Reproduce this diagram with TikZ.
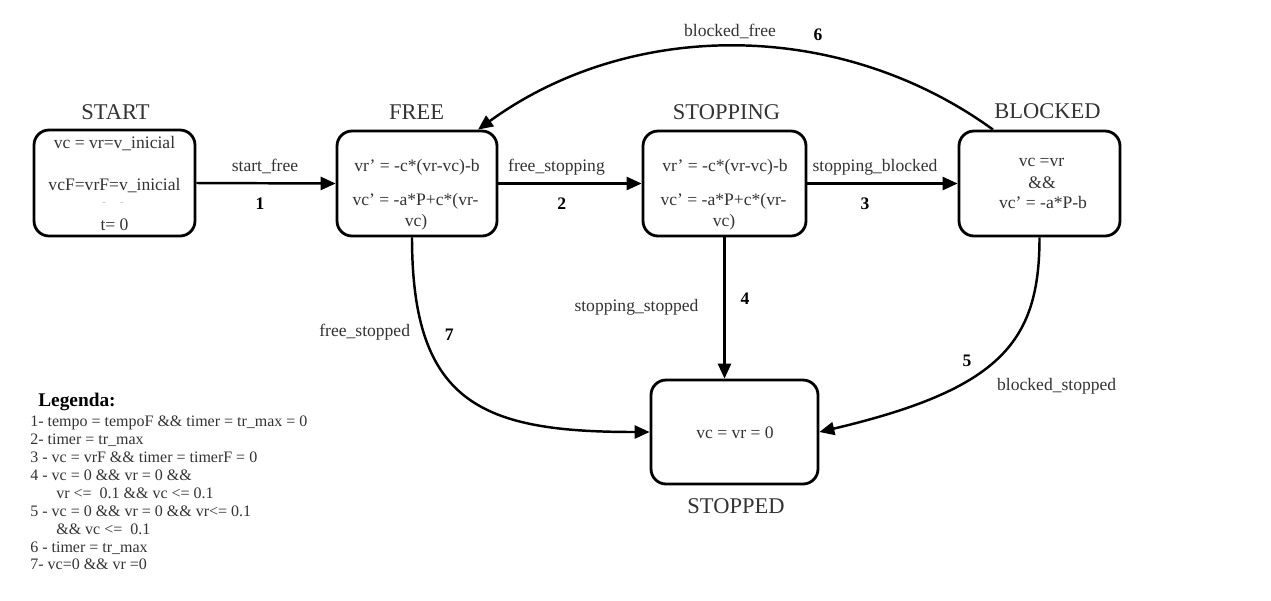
\documentclass[tikz,border=0pt]{standalone}
\usepackage{fontspec}
\setmainfont{Liberation Serif}
\usetikzlibrary{arrows.meta}
\definecolor{txt}{HTML}{333333}
\begin{document}
\begin{tikzpicture}[x=0.02cm,y=-0.02cm,
  state/.style={draw, line width=1.6pt, rounded corners=0.3cm, inner sep=0pt},
  lab/.style={text=txt, font=\fontsize{10}{12}\selectfont, inner sep=0pt, anchor=base},
  num/.style={font=\bfseries\fontsize{10}{12}\selectfont, inner sep=0pt, anchor=base},
  ttl/.style={text=txt, font=\fontsize{12.8}{14}\selectfont, inner sep=0pt, anchor=base},
  leg/.style={text=txt, font=\fontsize{9.1}{10}\selectfont, inner sep=0pt, anchor=base west},
  arr/.style={line width=1.4pt, -{Triangle[length=8.5pt,width=7.4pt]}}]
\useasboundingbox (0,0) rectangle (1271,600);
\fill[white] (0,0) rectangle (1271,600);

% states
\node[state, minimum width=3.22cm, minimum height=2.12cm] (start) at (114.5,183) {};
\node[state, minimum width=3.2cm, minimum height=2.1cm] (free) at (417,183.5) {};
\node[state, minimum width=3.26cm, minimum height=2.1cm] (stopping) at (724.5,183.5) {};
\node[state, minimum width=3.22cm, minimum height=2.1cm] (blocked) at (1039.5,183.5) {};
\node[state, minimum width=3.34cm, minimum height=2.08cm] (stopped) at (734.5,432) {};

% titles
\node[ttl] (tstart) at (115.5,119) {START};
\node[ttl] (tfree) at (416.5,119) {FREE};
\node[ttl] (tstopping) at (726.5,119) {STOPPING};
\node[ttl] (tblocked) at (1047.5,118.5) {BLOCKED};
\node[ttl] (tstopped) at (736,513) {STOPPED};

% state contents
\node[lab] (s1) at (114.5,148) {vc = vr=v\_inicial};
\node[lab] (s2) at (114.5,190) {vcF=vrF=v\_inicial};
\node[lab, text=black!25, font=\fontsize{6}{7}\selectfont] (s3) at (113,205) {-\hspace{8pt}-};
\node[lab] (s4) at (114.5,230.5) {t= 0};

\node[lab] (f1) at (417,171.7) {vr’ = -c*(vr-vc)-b};
\node[lab] (f2) at (415.5,205) {vc’ = -a*P+c*(vr-};
\node[lab] (f3) at (416,226.7) {vc)};

\node[lab] (p1) at (725,171.7) {vr’ = -c*(vr-vc)-b};
\node[lab] (p2) at (723.5,205) {vc’ = -a*P+c*(vr-};
\node[lab] (p3) at (724,226.7) {vc)};

\node[lab] (b1) at (1041.5,166.7) {vc =vr};
\node[lab] (b2) at (1042,188.3) {\&\&};
\node[lab] (b3) at (1043,208.3) {vc’ = -a*P-b};

\node[lab] (o1) at (735,438) {vc = vr = 0};

% transitions
\draw[arr] (start.east) -- (free.west);
\draw[arr] (free.east) -- (stopping.west);
\draw[arr] (stopping.east) -- (blocked.west);
\draw[arr] (stopping.south) -- (stopping.south |- stopped.north);
\draw[arr] (blocked.south) .. controls +(0,104) and +(182,-43) .. (stopped.east);
\draw[arr] ([xshift=-0.1cm]free.south) .. controls +(0,167) and +(-167,0) .. (stopped.west);
\draw[arr] ([xshift=-0.93cm]blocked.north) .. controls +(-153,-111) and +(153,-111) .. ([xshift=1.22cm]free.north);

% transition labels
\node[lab] (l1) at (265,171.7) {start\_free};
\node[num] (n1) at (260,209) {1};
\node[lab] (l2) at (556.5,171.7) {free\_stopping};
\node[num] (n2) at (561.7,209) {2};
\node[lab] (l3) at (875,171.7) {stopping\_blocked};
\node[num] (n3) at (865,209) {3};
\node[lab] (l4) at (636.5,311.7) {stopping\_stopped};
\node[num] (n4) at (745,304) {4};
\node[lab] (l5) at (1056.7,390) {blocked\_stopped};
\node[num] (n5) at (967,366) {5};
\node[lab] (l6) at (730,36.4) {blocked\_free};
\node[num] (n6) at (818,40) {6};
\node[lab] (l7) at (364.7,336.7) {free\_stopped};
\node[num] (n7) at (449.3,340) {7};

% legend
\node[font=\bfseries\fontsize{11}{12}\selectfont, inner sep=0pt, anchor=base west] (legt) at (38,406.7) {Legenda:};
\node[leg] (g1) at (30,426.7) {1- tempo = tempoF \&\& timer = tr\_max = 0};
\node[leg] (g2) at (30,444.6) {2- timer = tr\_max};
\node[leg] (g3) at (30,462.5) {3 - vc = vrF \&\& timer = timerF = 0};
\node[leg] (g4) at (30,480.4) {4 - vc = 0 \&\& vr = 0 \&\&};
\node[leg] (g5) at (56,498.3) {vr <=\ \ 0.1 \&\& vc <= 0.1};
\node[leg] (g6) at (30,516.2) {5 - vc = 0 \&\& vr = 0 \&\& vr<= 0.1};
\node[leg] (g7) at (56,534.1) {\&\& vc <=\ \ 0.1};
\node[leg] (g8) at (30,552) {6 - timer = tr\_max};
\node[leg] (g9) at (30,569.9) {7- vc=0 \&\& vr =0};
\end{tikzpicture}
\end{document}
